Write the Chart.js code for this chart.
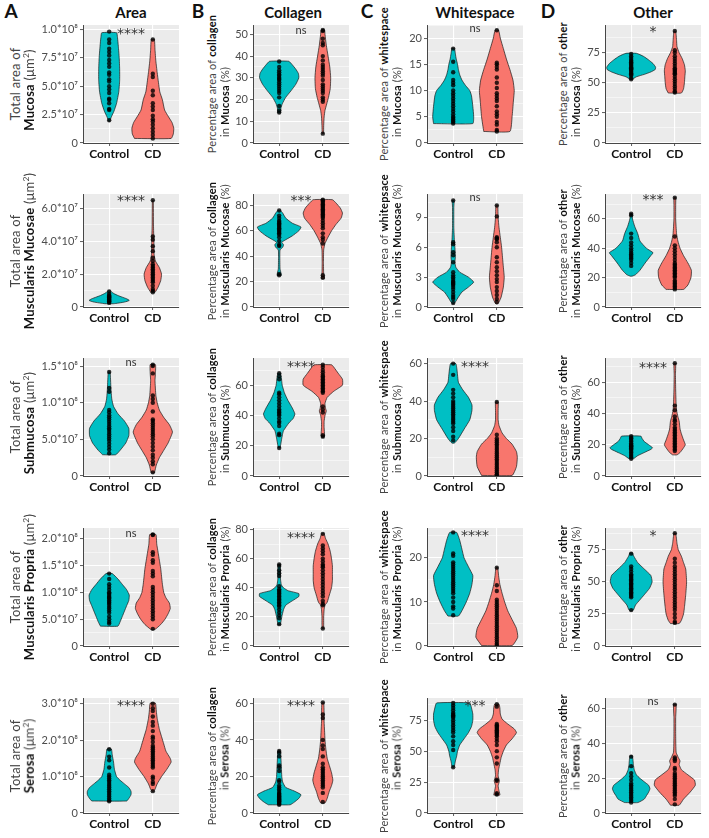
<!DOCTYPE html>
<html>
<head>
<meta charset="utf-8">
<title>Violin plots: Control vs CD</title>
<script src="https://cdn.jsdelivr.net/npm/chart.js@4"></script>
<style>
  body { margin: 0; background: #fff; }
  #wrap { position: relative; width: 709px; height: 838px; font-family: Lato, "Open Sans", sans-serif; color: #222; }
  #wrap canvas { position: absolute; }
  .txt { position: absolute; white-space: nowrap; transform: translate(-50%, -50%); }
  .ytitle { font-size: 11px; color: #444; letter-spacing: 0.2px; transform: translate(-50%, -50%) rotate(-90deg); }
  .ytitle.big { font-size: 13px; }
  .ytitle b { color: #111; }
  .ytitle sup { font-size: 0.65em; }
  .coltitle { font-size: 15px; font-weight: bold; color: #111; }
  .letter { font-size: 19px; font-weight: bold; color: #111; }
</style>
</head>
<body>
<div id="wrap"></div>
<script>
// ---------- data ----------
const groups = ['Control', 'CD'];
const columns = ['Area', 'Collagen', 'Whitespace', 'Other'];
const letters = ['A', 'B', 'C', 'D'];
const regions = ['Mucosa', 'Muscularis Mucosae', 'Submucosa', 'Muscularis Propria', 'Serosa'];

// violin outlines: [value, half width in category units], points: observed values
// --- Area ---
const areaMucCtrl = [[1.9e7,0.01],[2.3e7,0.05],[2.8e7,0.11],[3.5e7,0.17],[4.5e7,0.22],[5.5e7,0.24],[6.5e7,0.24],[7.5e7,0.23],[8.5e7,0.21],[9.3e7,0.19],[9.7e7,0.17]];
const areaMucCtrlPts = [9.8e7,9.1e7,8.8e7,8.3e7,8.0e7,7.7e7,7.3e7,7.0e7,6.7e7,6.2e7,6.0e7,5.6e7,5.4e7,5.0e7,4.7e7,4.4e7,3.9e7,3.8e7,3.5e7,3.0e7,2.9e7,2.0e7];
const areaMucCd = [[0.4e7,0.42],[0.8e7,0.47],[1.3e7,0.48],[1.8e7,0.44],[2.3e7,0.36],[2.9e7,0.27],[3.8e7,0.22],[4.5e7,0.16],[5.3e7,0.13],[6.2e7,0.1],[7.2e7,0.07],[8.2e7,0.05],[9.1e7,0.035]];
const areaMucCdPts = [9.1e7,6.1e7,5.8e7,4.6e7,4.2e7,3.5e7,3.2e7,2.9e7,2.4e7,2.1e7,1.9e7,1.6e7,1.3e7,1.0e7,0.7e7,0.4e7];

const areaMMCtrl = [[0.2e7,0.1],[0.3e7,0.35],[0.4e7,0.46],[0.5e7,0.4],[0.6e7,0.3],[0.7e7,0.2],[0.8e7,0.12],[0.9e7,0.06],[0.98e7,0.03]];
const areaMMCtrlPts = [0.25e7,0.3e7,0.35e7,0.4e7,0.45e7,0.5e7,0.55e7,0.6e7,0.65e7,0.7e7,0.8e7,0.95e7];
const areaMMCd = [[0.9e7,0.05],[1.2e7,0.12],[1.6e7,0.18],[2.0e7,0.2],[2.4e7,0.15],[2.8e7,0.06],[3.2e7,0.03],[4e7,0.025],[5e7,0.015],[6.5e7,0.01]];
const areaMMCdPts = [6.5e7,4.3e7,4.1e7,3.7e7,3.4e7,3.0e7,2.8e7,2.6e7,2.5e7,2.4e7,2.3e7,2.2e7,2.1e7,2.0e7,1.9e7,1.8e7,1.7e7,1.6e7,1.5e7,1.3e7,1.1e7,1.0e7,0.9e7];

const areaSubCtrl = [[2.9e7,0.15],[3.5e7,0.25],[4.5e7,0.38],[5.5e7,0.45],[6.5e7,0.45],[7.5e7,0.35],[8.5e7,0.2],[9.5e7,0.1],[1.05e8,0.06],[1.2e8,0.04],[1.42e8,0.02]];
const areaSubCtrlPts = [1.42e8,1.2e8,1.15e8,9e7,8.7e7,8.3e7,8e7,7.7e7,7.4e7,7.1e7,6.8e7,6.5e7,6.3e7,6e7,5.7e7,5.4e7,5.1e7,4.8e7,4.4e7,4e7,3.6e7,3.1e7];
const areaSubCd = [[0.4e7,0.02],[0.5e7,0.04],[1.5e7,0.08],[2.5e7,0.15],[3.5e7,0.25],[4.5e7,0.35],[6e7,0.45],[7e7,0.38],[8e7,0.25],[9e7,0.15],[1e8,0.1],[1.1e8,0.07],[1.3e8,0.05],[1.4e8,0.06],[1.52e8,0.06]];
const areaSubCdPts = [1.52e8,1.5e8,1.4e8,1.1e8,1.05e8,1e8,8.8e7,7.7e7,7.5e7,7.2e7,6.9e7,6.6e7,6.3e7,6e7,5.7e7,5.4e7,5e7,4.5e7,4e7,3.5e7,2.9e7,2.5e7,2e7,1.6e7,0.5e7];

const areaMPCtrl = [[3.7e7,0.2],[4.5e7,0.25],[5.5e7,0.3],[6.5e7,0.35],[7.5e7,0.4],[8.5e7,0.45],[9.5e7,0.46],[1.05e8,0.4],[1.15e8,0.3],[1.25e8,0.2],[1.35e8,0.07]];
const areaMPCtrlPts = [1.35e8,1.25e8,1.15e8,1.1e8,1.05e8,1e8,9.8e7,9.5e7,9.2e7,9e7,8.8e7,8.5e7,8.2e7,8e7,7.7e7,7.3e7,7e7,6.6e7,6.2e7,5.5e7,5e7,4.5e7,4.2e7];
const areaMPCd = [[3.1e7,0.05],[4e7,0.18],[5e7,0.28],[6e7,0.35],[7e7,0.4],[8e7,0.38],[9e7,0.3],[1e8,0.25],[1.15e8,0.22],[1.3e8,0.2],[1.45e8,0.18],[1.6e8,0.15],[1.75e8,0.12],[1.9e8,0.09],[2.08e8,0.07]];
const areaMPCdPts = [2.08e8,2.07e8,1.75e8,1.7e8,1.6e8,1.55e8,1.4e8,1.35e8,1.3e8,1.1e8,1.05e8,1e8,9.5e7,9e7,8.5e7,8e7,7.5e7,7e7,6.5e7,6e7,5.5e7,5e7,3.2e7];

const areaSerCtrl = [[3.3e7,0.4],[4e7,0.45],[5e7,0.5],[6e7,0.5],[7e7,0.45],[8e7,0.35],[9e7,0.25],[1e8,0.17],[1.2e8,0.12],[1.4e8,0.1],[1.6e8,0.07],[1.76e8,0.05]];
const areaSerCtrlPts = [1.75e8,1.55e8,1.45e8,1.25e8,1.05e8,1e8,9.5e7,9e7,8.5e7,8e7,7.5e7,7e7,6.5e7,6e7,5.5e7,5e7,4.5e7,4e7,3.5e7,3.2e7];
const areaSerCd = [[6e7,0.02],[6.5e7,0.05],[8e7,0.1],[1e8,0.2],[1.2e8,0.32],[1.4e8,0.42],[1.5e8,0.4],[1.7e8,0.3],[1.9e8,0.25],[2.1e8,0.2],[2.3e8,0.15],[2.6e8,0.1],[2.8e8,0.08],[3.02e8,0.06]];
const areaSerCdPts = [3e8,2.88e8,2.8e8,2.65e8,2.5e8,2.4e8,2.25e8,2.1e8,2.05e8,1.95e8,1.85e8,1.8e8,1.75e8,1.7e8,1.65e8,1.6e8,1.55e8,1.5e8,1.45e8,1.4e8,1.35e8,1.3e8,1.25e8,1e8,9.5e7,8.5e7,8e7,6e7];

// --- Collagen ---
const colMucCtrl = [[13.8,0.03],[16,0.04],[18,0.07],[21,0.15],[24,0.27],[27,0.38],[30,0.45],[32,0.44],[34,0.38],[36,0.3],[37.6,0.22]];
const colMucCtrlPts = [37.5,35,33.5,32.5,31.5,31,30,29.5,29,28,27,26,25,24,23,21,17,15,14];
const colMucCd = [[4.3,0.015],[8,0.02],[12,0.03],[15,0.05],[18,0.09],[21,0.13],[25,0.17],[30,0.18],[35,0.16],[40,0.12],[45,0.08],[50,0.05],[52,0.04]];
const colMucCdPts = [52,51.5,48,46,45,40,38,36,35,34,33,32,31,29,27,26,25,24,23,21,20,19,4.3];

const colMMCtrl = [[25,0.05],[27,0.04],[30,0.02],[40,0.015],[45,0.02],[47,0.08],[49,0.1],[51,0.06],[53,0.15],[56,0.3],[60,0.45],[63,0.5],[66,0.3],[70,0.15],[74,0.08],[76,0.03]];
const colMMCtrlPts = [76,72,70,68,67,66,65,64,63,62,61,60,59,58,57,55,52,49,48,26,25];
const colMMCd = [[22.5,0.04],[26,0.02],[35,0.015],[45,0.02],[50,0.05],[55,0.12],[60,0.2],[65,0.3],[70,0.42],[74,0.45],[78,0.4],[82,0.3],[84.5,0.22]];
const colMMCdPts = [84.5,84,83,82,81,80,79,78,77,76,75,74,73,72,71,70,68,66,64,62,58,55,53,50,25,23];

const colSubCtrl = [[18.5,0.02],[20,0.03],[25,0.06],[28,0.08],[30,0.1],[35,0.22],[38,0.32],[41,0.36],[45,0.3],[50,0.2],[55,0.12],[60,0.07],[65,0.05],[68,0.03]];
const colSubCtrlPts = [68,66,64,55,54,52,50,48,46,44,43,42,41,40,38,36,35,33,28,27,18.5];
const colSubCd = [[25.5,0.02],[27,0.04],[32,0.03],[36,0.03],[40,0.05],[43,0.08],[45,0.06],[48,0.05],[52,0.1],[56,0.25],[60,0.45],[64,0.45],[68,0.35],[72,0.25],[73.5,0.2]];
const colSubCdPts = [73.5,72,70,68.5,67,66,65,64,63,62,61,60,59,58,57,56,55,46,44,42,27,26];

const colMPCtrl = [[14.5,0.02],[15,0.03],[20,0.06],[25,0.1],[28,0.15],[31,0.3],[34,0.45],[36,0.45],[38,0.2],[40,0.1],[42,0.05],[46,0.03],[52,0.03],[56,0.02]];
const colMPCtrlPts = [56,55,52,50,48,41,39,38,37,36,35,34,33,32,31,30,29,28,27,25,23,21,19,15];
const colMPCd = [[12,0.015],[15,0.02],[20,0.02],[25,0.03],[28,0.05],[30,0.1],[35,0.15],[40,0.2],[45,0.22],[50,0.22],[55,0.22],[60,0.2],[65,0.17],[70,0.12],[74,0.06],[77,0.03]];
const colMPCdPts = [77,69,67,65,63,60,58,56,55,54,52,50,48,46,44,42,40,38,36,34,31,29,28,12];

const colSerCtrl = [[4.5,0.25],[6,0.35],[8,0.45],[10,0.5],[12,0.35],[14,0.15],[17,0.08],[20,0.06],[25,0.05],[30,0.04],[34,0.03]];
const colSerCtrlPts = [34,33,31,26,25,23,18,17,15,14,13,12,11,10.5,10,9.5,9,8.5,8,7.5,7,6.5,6,5.5,5,4.5];
const colSerCd = [[5.5,0.05],[8,0.1],[12,0.15],[15,0.2],[18,0.23],[22,0.2],[26,0.15],[30,0.1],[35,0.07],[40,0.05],[45,0.04],[50,0.03],[55,0.03],[60.5,0.02]];
const colSerCdPts = [60.5,54,52,40,37,35,31,27,25,24,23,22,21,20,19,18,17,16,15,14,11,6];

// --- Whitespace ---
const whiteMucCtrl = [[3.7,0.45],[5,0.47],[7,0.45],[9,0.42],[10,0.38],[11,0.28],[12,0.2],[13,0.15],[14,0.12],[15,0.1],[16,0.07],[17,0.05],[18,0.03]];
const whiteMucCtrlPts = [18,15.5,13.5,12,11.5,11,10,9.5,9,8.5,8,7.5,7,6.5,6,5.5,5,4.8,4.5,4.2,4,3.7];
const whiteMucCd = [[2.2,0.3],[5,0.35],[8,0.38],[10,0.4],[12,0.37],[14,0.3],[16,0.22],[18,0.15],[20,0.08],[21.5,0.04]];
const whiteMucCdPts = [21.5,15.3,15,14.5,14,12.5,11.5,10.5,9.5,9,8.5,8,7,6,5.5,5,4,3.5,2.5,2.2];

const whiteMMCtrl = [[0.35,0.02],[0.5,0.05],[1,0.12],[1.5,0.2],[2,0.35],[2.5,0.47],[3,0.35],[3.5,0.15],[4,0.06],[4.5,0.04],[5,0.05],[6,0.04],[6.5,0.03],[8,0.015],[10,0.015],[10.7,0.02]];
const whiteMMCtrlPts = [10.7,6.5,6.3,5.5,5.2,4.5,3.5,3.2,3.0,2.8,2.6,2.5,2.4,2.3,2.2,2.0,1.8,1.5,1.2,1.0,0.8,0.4];
const whiteMMCd = [[0.3,0.02],[0.5,0.05],[1,0.1],[2,0.15],[3,0.17],[4,0.15],[5,0.13],[6,0.11],[7,0.08],[8,0.05],[9,0.03],[10.2,0.02]];
const whiteMMCdPts = [10.2,9.1,7.0,6.9,6.8,6.5,6.0,5.0,4.5,4.0,3.6,3.2,2.8,2.5,2.0,1.6,1.2,0.8,0.5];

const whiteSubCtrl = [[17.5,0.02],[18,0.05],[20,0.12],[25,0.25],[30,0.38],[35,0.43],[38,0.43],[42,0.35],[46,0.22],[50,0.12],[54,0.1],[58,0.08],[60,0.06]];
const whiteSubCtrlPts = [60,54,46,44,42,40,39,38,37,36,35,34,33,32,31,30,29,28,26,24,21,19];
const whiteSubCd = [[0.3,0.35],[5,0.45],[10,0.47],[13,0.45],[17,0.35],[20,0.22],[23,0.12],[27,0.05],[30,0.03],[35,0.03],[39.5,0.03]];
const whiteSubCdPts = [39.5,22,20,19,18,17,16,15,14,13,12,11,10,9,8,7,6,5,4,3,2,1,0.5];

const whiteMPCtrl = [[6.8,0.12],[8,0.2],[10,0.3],[12,0.38],[14,0.43],[16,0.45],[18,0.35],[20,0.25],[22,0.2],[24,0.15],[25.8,0.08]];
const whiteMPCtrlPts = [25.8,21,20.5,19,18.5,18,17.5,17,16.5,16,15.5,15,14.5,14,13.5,13,12.5,12,11,10,9,8.5,7];
const whiteMPCd = [[0.1,0.35],[2,0.48],[4,0.45],[6,0.35],[8,0.25],[10,0.18],[12,0.12],[14,0.07],[16,0.04],[17.8,0.02]];
const whiteMPCdPts = [17.8,13.8,12.5,10.5,10,9.5,9,8.5,8,7.5,7,6.5,6,5.5,5,4.5,4,3.5,3,2.5,2,1.5,1,0.5,0.2];

const whiteSerCtrl = [[37,0.02],[38,0.03],[42,0.05],[46,0.08],[50,0.1],[55,0.15],[60,0.25],[65,0.35],[70,0.42],[75,0.45],[80,0.45],[85,0.42],[89,0.38]];
const whiteSerCtrlPts = [89,87,85,83,81,80,79,78,77,75,73,71,69,67,65,62,58,55,51,37];
const whiteSerCd = [[14.5,0.07],[18,0.05],[22,0.03],[26,0.06],[30,0.03],[35,0.04],[40,0.07],[45,0.1],[50,0.15],[55,0.22],[60,0.35],[65,0.45],[68,0.4],[72,0.25],[76,0.12],[80,0.08],[85,0.07],[88,0.05]];
const whiteSerCdPts = [88,86,72,71,70,69,68,67,66,65,64,63,62,60,58,55,50,45,40,27,26,16,15];

// --- Other ---
const otherMucCtrl = [[53,0.03],[55,0.12],[57,0.3],[59,0.45],[61,0.55],[63,0.56],[66,0.5],[69,0.4],[72,0.28],[74.5,0.12]];
const otherMucCtrlPts = [74,72,70.5,69,68,67,66,65,64,63,62,61.5,61,60,59,58,57,56,54,53];
const otherMucCd = [[41.5,0.15],[45,0.2],[50,0.22],[55,0.23],[60,0.24],[65,0.22],[70,0.17],[75,0.1],[80,0.05],[85,0.04],[90,0.03],[93,0.02]];
const otherMucCdPts = [93,77,75,72,70,68,66,64,62,61,60,59,58,57,55,53,51,49,47,45,43,42];

const otherMMCtrl = [[21,0.02],[22,0.1],[25,0.2],[30,0.32],[35,0.45],[37,0.5],[40,0.35],[45,0.2],[50,0.15],[55,0.08],[60,0.03],[63.5,0.02]];
const otherMMCtrlPts = [63.5,62.5,50,47,44,42,40,38.5,37,36,35,34,33,32,30,28];
const otherMMCd = [[12,0.2],[15,0.3],[20,0.37],[25,0.38],[30,0.3],[35,0.2],[40,0.12],[45,0.07],[50,0.04],[60,0.02],[70,0.02],[74.5,0.02]];
const otherMMCdPts = [74.5,48,42,40,38,36,34,32,30,29,28,27,26,25,24,23,22,21,20,18,17,16,15,14,13,12];

const otherSubCtrl = [[11,0.05],[13,0.15],[15,0.3],[17,0.45],[18,0.49],[20,0.4],[22,0.3],[24,0.25],[25.5,0.22]];
const otherSubCtrlPts = [25.5,24.5,24,23,22,21,20,19.5,19,18.5,18,17.5,17,16,15,14,13,12,11];
const otherSubCd = [[13.5,0.05],[15,0.12],[18,0.2],[20,0.24],[23,0.2],[27,0.15],[30,0.12],[35,0.1],[38,0.07],[42,0.04],[46,0.03],[55,0.02],[65,0.015],[72,0.02]];
const otherSubCdPts = [72,45,42,38,36,35,33,31,30,29,28,27,26,25,24,23,22,21,20,19,18,17,16];

const otherMPCtrl = [[27.5,0.02],[28,0.05],[32,0.1],[36,0.2],[40,0.3],[45,0.42],[50,0.48],[55,0.45],[60,0.3],[65,0.15],[70,0.06],[72.5,0.03]];
const otherMPCtrlPts = [72,62,60,58,56,55,54,53,52,51,50,49,48,47,46,45,44,43,42,41,40,39,38,28];
const otherMPCd = [[17.5,0.1],[20,0.15],[25,0.2],[30,0.22],[40,0.25],[50,0.27],[60,0.25],[65,0.2],[70,0.15],[75,0.08],[80,0.05],[88,0.02]];
const otherMPCdPts = [88,68,65,62,60,58,56,54,52,50,48,46,44,42,40,38,36,34,32,30,28,25,22,19,18];

const otherSerCtrl = [[6,0.15],[8,0.3],[10,0.35],[12,0.4],[14,0.43],[16,0.4],[18,0.3],[20,0.2],[22,0.12],[25,0.07],[28,0.05],[31,0.04],[33,0.02]];
const otherSerCtrlPts = [32.5,27,23,21,19,17,16,15,14,13,12,11,10,9,8,7,6];
const otherSerCd = [[4.5,0.1],[8,0.2],[12,0.35],[16,0.47],[19,0.45],[22,0.3],[25,0.15],[28,0.1],[30,0.12],[32,0.08],[35,0.03],[45,0.02],[55,0.02],[62.5,0.03]];
const otherSerCdPts = [62.5,32,31,30,26,25,23,22,21,20,19,18,17,16,15,14,13,12,11,10,8,5];

// axis ticks and ranges (per row)
const areaTicks = [[0,2.5e7,5e7,7.5e7,1e8],[0,2e7,4e7,6e7],[0,5e7,1e8,1.5e8],[0,5e7,1e8,1.5e8,2e8],[0,1e8,2e8,3e8]];
const areaTickLabels = [
  ['0','2.5*10⁷','5.0*10⁷','7.5*10⁷','1.0*10⁸'],
  ['0','2.0*10⁷','4.0*10⁷','6.0*10⁷'],
  ['0','5.0*10⁷','1.0*10⁸','1.5*10⁸'],
  ['0','5.0*10⁷','1.0*10⁸','1.5*10⁸','2.0*10⁸'],
  ['0','1.0*10⁸','2.0*10⁸','3.0*10⁸']
];
const collagenTicks = [[0,10,20,30,40,50],[0,20,40,60,80],[0,20,40,60],[0,20,40,60,80],[0,20,40,60]];
const whiteTicks = [[0,5,10,15,20],[0,3,6,9],[0,20,40,60],[0,10,20],[0,25,50,75]];
const otherTicks = [[0,25,50,75],[0,20,40,60],[0,20,40,60],[0,25,50,75],[0,20,40,60]];

const areaMax = [1.038e8, 6.88e7, 1.61e8, 2.2e8, 3.16e8];
const collagenMax = [54.3, 89, 78, 81, 63];
const whiteMax = [22.5, 11.35, 63, 26.8, 93];
const otherMax = [98, 77, 75.4, 92, 66.3];

// significance labels and their heights
const areaSig = ['****', '****', 'ns', 'ns', '****'];
const areaSigY = [9.8e7, 6.63e7, 1.55e8, 2.09e8, 3.0e8];
const collagenSig = ['ns', '***', '****', '****', '****'];
const collagenSigY = [52, 85.7, 73.9, 76, 60];
const whiteSig = ['ns', 'ns', '****', '****', '***'];
const whiteSigY = [21.9, 11.0, 59.7, 25.5, 89];
const otherSig = ['*', '***', '****', '*', 'ns'];
const otherSigY = [94, 74.4, 71, 88, 64.4];

// ---------- layout ----------
const FONT = 'Lato, "Open Sans", sans-serif';
const STAR_FONT = '"DejaVu Sans", sans-serif';
const TEAL = '#00BFC4';
const SALMON = '#F8766D';
const plotLeft = [83, 253, 427, 605];
const plotW = 96;
const plotTop = [25, 194, 358, 528, 698];
const plotBottom = [143, 307, 476, 646, 813];
const axisW = [50, 26, 26, 26];
const padTop = 6, padRight = 4, axisH = 20;
const yTitleX = [[15, 29], [211, 224], [383, 396], [562, 575]];
const line2ShiftA = [6, 0, 6, 0, 0];
const line2Shift = [18, 0, 12, 2, 2];
const colTitleX = [131, 293, 475, 653];
const letterX = [11, 198, 367, 548];

const wrap = document.getElementById('wrap');

function addText(html, x, y, cls) {
  const d = document.createElement('div');
  d.className = 'txt ' + cls;
  d.style.left = x + 'px';
  d.style.top = y + 'px';
  d.innerHTML = html;
  wrap.appendChild(d);
}

function violin(shape, cx) {
  const left = shape.map(p => ({ x: cx - p[1], y: p[0] }));
  const right = shape.slice().reverse().map(p => ({ x: cx + p[1], y: p[0] }));
  return left.concat(right, [left[0]]);
}

const panelBg = {
  id: 'panelBg',
  beforeDraw(chart) {
    const { ctx, chartArea: a } = chart;
    ctx.save();
    ctx.fillStyle = '#EBEBEB';
    ctx.fillRect(a.left, a.top, a.width, a.height);
    ctx.restore();
  }
};

const panelData = [
  [areaMucCtrl, areaMucCtrlPts, areaMucCd, areaMucCdPts],
  [colMucCtrl, colMucCtrlPts, colMucCd, colMucCdPts],
  [whiteMucCtrl, whiteMucCtrlPts, whiteMucCd, whiteMucCdPts],
  [otherMucCtrl, otherMucCtrlPts, otherMucCd, otherMucCdPts],
  [areaMMCtrl, areaMMCtrlPts, areaMMCd, areaMMCdPts],
  [colMMCtrl, colMMCtrlPts, colMMCd, colMMCdPts],
  [whiteMMCtrl, whiteMMCtrlPts, whiteMMCd, whiteMMCdPts],
  [otherMMCtrl, otherMMCtrlPts, otherMMCd, otherMMCdPts],
  [areaSubCtrl, areaSubCtrlPts, areaSubCd, areaSubCdPts],
  [colSubCtrl, colSubCtrlPts, colSubCd, colSubCdPts],
  [whiteSubCtrl, whiteSubCtrlPts, whiteSubCd, whiteSubCdPts],
  [otherSubCtrl, otherSubCtrlPts, otherSubCd, otherSubCdPts],
  [areaMPCtrl, areaMPCtrlPts, areaMPCd, areaMPCdPts],
  [colMPCtrl, colMPCtrlPts, colMPCd, colMPCdPts],
  [whiteMPCtrl, whiteMPCtrlPts, whiteMPCd, whiteMPCdPts],
  [otherMPCtrl, otherMPCtrlPts, otherMPCd, otherMPCdPts],
  [areaSerCtrl, areaSerCtrlPts, areaSerCd, areaSerCdPts],
  [colSerCtrl, colSerCtrlPts, colSerCd, colSerCdPts],
  [whiteSerCtrl, whiteSerCtrlPts, whiteSerCd, whiteSerCdPts],
  [otherSerCtrl, otherSerCtrlPts, otherSerCd, otherSerCdPts]
];

const ticksByCol = [areaTicks, collagenTicks, whiteTicks, otherTicks];
const maxByCol = [areaMax, collagenMax, whiteMax, otherMax];
const sigByCol = [areaSig, collagenSig, whiteSig, otherSig];
const sigYByCol = [areaSigY, collagenSigY, whiteSigY, otherSigY];
const firstLine = [
  'Total area of',
  'Percentage area of <b>collagen</b>',
  'Percentage area of <b>whitespace</b>',
  'Percentage area of <b>other</b>'
];

// column headers and panel letters
columns.forEach((name, c) => {
  addText(name, colTitleX[c], 12, 'coltitle');
  addText(letters[c], letterX[c], 10, 'letter');
});

for (let r = 0; r < 5; r++) {
  for (let c = 0; c < 4; c++) {
    const [ctrlShape, ctrlPts, cdShape, cdPts] = panelData[r * 4 + c];
    const majors = ticksByCol[c][r];
    const yMax = maxByCol[c][r];
    const step = majors[1] - majors[0];
    const allTicks = [];
    majors.forEach(v => {
      allTicks.push(v);
      if (v + step / 2 <= yMax) allTicks.push(v + step / 2);
    });
    const labelFor = v => {
      const i = majors.indexOf(v);
      if (i < 0) return '';
      return c === 0 ? areaTickLabels[r][i] : String(v);
    };
    const isMajor = ctx => ctx.tick && majors.indexOf(ctx.tick.value) >= 0;

    const plotH = plotBottom[r] - plotTop[r];
    const canvas = document.createElement('canvas');
    const cw = axisW[c] + plotW + padRight;
    const ch = padTop + plotH + axisH;
    canvas.width = cw;
    canvas.height = ch;
    canvas.style.width = cw + 'px';
    canvas.style.height = ch + 'px';
    canvas.style.left = (plotLeft[c] - axisW[c]) + 'px';
    canvas.style.top = (plotTop[r] - padTop) + 'px';
    wrap.appendChild(canvas);

    const sigText = sigByCol[c][r];
    const sigValue = sigYByCol[c][r];
    const sigPlugin = {
      id: 'sig',
      afterDatasetsDraw(chart) {
        const { ctx, scales } = chart;
        const stars = sigText.indexOf('*') >= 0;
        ctx.save();
        ctx.fillStyle = '#333';
        ctx.textAlign = 'center';
        ctx.textBaseline = 'middle';
        ctx.font = stars ? '14px ' + STAR_FONT : '11px ' + FONT;
        ctx.fillText(sigText, scales.x.getPixelForValue(1.5), scales.y.getPixelForValue(sigValue) + (stars ? 3 : 0));
        ctx.restore();
      }
    };

    new Chart(canvas, {
      type: 'scatter',
      data: {
        datasets: [
          { data: ctrlPts.map(v => ({ x: 1, y: v })), pointRadius: 2.2, backgroundColor: 'rgba(0,0,0,0.8)', borderWidth: 0, order: 0 },
          { data: cdPts.map(v => ({ x: 2, y: v })), pointRadius: 2.2, backgroundColor: 'rgba(0,0,0,0.8)', borderWidth: 0, order: 0 },
          { data: violin(ctrlShape, 1), showLine: true, fill: 'shape', backgroundColor: TEAL, borderColor: '#1a1a1a', borderWidth: 0.7, pointRadius: 0, tension: 0.15, order: 1 },
          { data: violin(cdShape, 2), showLine: true, fill: 'shape', backgroundColor: SALMON, borderColor: '#1a1a1a', borderWidth: 0.7, pointRadius: 0, tension: 0.15, order: 1 }
        ]
      },
      options: {
        responsive: false,
        animation: false,
        events: [],
        layout: { padding: { top: padTop, right: padRight, left: 0, bottom: 0 } },
        plugins: { legend: { display: false }, tooltip: { enabled: false } },
        scales: {
          x: {
            type: 'linear',
            min: 0.4,
            max: 2.6,
            afterBuildTicks: a => { a.ticks = [{ value: 1 }, { value: 2 }]; },
            afterFit: s => { s.height = axisH; s.paddingLeft = 0; s.paddingRight = 0; },
            ticks: {
              autoSkip: false, maxRotation: 0, padding: 1, color: '#111',
              font: { family: FONT, size: 12, weight: 'bold' },
              callback: v => groups[v - 1]
            },
            grid: { color: '#fff', lineWidth: 1.1, tickLength: 3, tickColor: '#333', tickWidth: 0.8 },
            border: { color: '#333', width: 0.9 }
          },
          y: {
            min: 0,
            max: yMax,
            afterBuildTicks: a => { a.ticks = allTicks.map(v => ({ value: v })); },
            afterFit: s => { s.width = axisW[c]; s.paddingTop = 0; s.paddingBottom = 0; },
            ticks: {
              autoSkip: false, padding: 2, color: '#4D4D4D',
              font: { family: FONT, size: 11 },
              callback: v => labelFor(v)
            },
            grid: {
              color: '#fff',
              lineWidth: ctx => isMajor(ctx) ? 1.1 : 0.5,
              tickLength: 3,
              tickWidth: 0.8,
              tickColor: ctx => isMajor(ctx) ? '#333' : 'rgba(0,0,0,0)'
            },
            border: { color: '#333', width: 0.9 }
          }
        }
      },
      plugins: [panelBg, sigPlugin]
    });

    // y-axis title (two lines, rotated)
    const yc = (plotTop[r] + plotBottom[r]) / 2;
    const l1 = (c === 2 && r === 1) ? 'Percentage area of <b>whitepsace</b>' : firstLine[c];
    const l2 = c === 0
      ? '<b>' + regions[r] + '</b> (μm<sup>2</sup>)'
      : 'in <b>' + regions[r] + '</b> (%)';
    const cls = c === 0 ? 'ytitle big' : 'ytitle';
    addText(l1, yTitleX[c][0], yc, cls);
    addText(l2, yTitleX[c][1], yc + (c === 0 ? line2ShiftA[r] : line2Shift[r]), cls);
  }
}
</script>
</body>
</html>
